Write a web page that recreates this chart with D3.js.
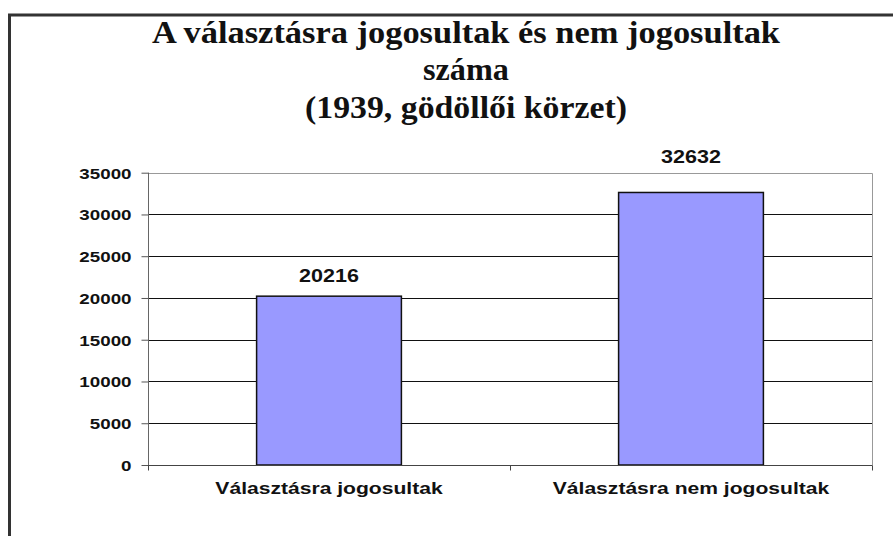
<!DOCTYPE html>
<html>
<head>
<meta charset="utf-8">
<script src="https://cdn.jsdelivr.net/npm/d3@7"></script>
<style>
  html, body { margin: 0; padding: 0; background: #fff; }
  svg { display: block; }
  .title text { font-family: "Liberation Serif", "DejaVu Serif", serif; font-weight: bold; }
  .sans { font-family: "Liberation Sans", Arial, sans-serif; font-weight: bold; }
</style>
</head>
<body>
<svg id="chart" width="893" height="536"></svg>
<script>
// ---- data ----
const titleLines = ["A választásra jogosultak és nem jogosultak", "száma", "(1939, gödöllői körzet)"];
const categories = ["Választásra jogosultak", "Választásra nem jogosultak"];
const values = [20216, 32632];
const yTicks = [0, 5000, 10000, 15000, 20000, 25000, 30000, 35000];

// ---- layout ----
const W = 893, H = 536;
const plot = { left: 148, right: 872, top: 172.7, bottom: 465 };
const titleWidths = [628, 86, 322];
const titleBaselines = [43, 80, 118];
const labelOffsets = [14, 29];

const svg = d3.select("#chart");

// outer frame (extends beyond canvas right/bottom)
svg.append("rect")
  .attr("x", 9.5).attr("y", 15).attr("width", W + 20).attr("height", H + 20)
  .attr("fill", "#fff").attr("stroke", "#333").attr("stroke-width", 3);

// title
const title = svg.append("g").attr("class", "title").attr("fill", "#111");
titleLines.forEach((t, i) => {
  title.append("text")
    .attr("x", 466).attr("y", titleBaselines[i])
    .attr("text-anchor", "middle")
    .style("font-size", "31px")
    .attr("textLength", titleWidths[i])
    .attr("lengthAdjust", "spacingAndGlyphs")
    .text(t);
});

// scales
const x = d3.scaleBand().domain(categories).range([plot.left, plot.right])
  .paddingInner(0.6).paddingOuter(0.3);
const y = d3.scaleLinear().domain([0, 35000]).range([plot.bottom, plot.top]);

// gridlines
svg.append("g").selectAll("line")
  .data(yTicks.filter(d => d > 0 && d < 35000))
  .join("line")
  .attr("x1", plot.left).attr("x2", plot.right)
  .attr("y1", d => Math.round(y(d)) + 0.5).attr("y2", d => Math.round(y(d)) + 0.5)
  .attr("stroke", "#111").attr("stroke-width", 1);

// plot border top/right
svg.append("path")
  .attr("d", `M${plot.left},${Math.round(plot.top) + 0.5}H${plot.right + 0.5}V${plot.bottom}`)
  .attr("fill", "none").attr("stroke", "#999").attr("stroke-width", 1);

// bars
svg.append("g").selectAll("rect")
  .data(values)
  .join("rect")
  .attr("x", (d, i) => x(categories[i]))
  .attr("y", d => y(d))
  .attr("width", x.bandwidth())
  .attr("height", d => y(0) - y(d))
  .attr("fill", "#9999FF")
  .attr("stroke", "#111").attr("stroke-width", 1.5);

// y axis
const yAxis = svg.append("g")
  .attr("transform", `translate(${plot.left + 0.5},0)`)
  .call(d3.axisLeft(y).tickValues(yTicks).tickSize(7).tickPadding(10).tickFormat(d3.format("d")));
yAxis.select(".domain").attr("stroke", "#666").attr("d", `M0,${plot.top}V${plot.bottom + 5}`);
yAxis.selectAll(".tick line").attr("stroke", "#555");
yAxis.selectAll("text")
  .attr("class", "sans")
  .style("font-size", "15px").attr("fill", "#111")
  .attr("dy", "0.36em");

// x axis
const xAxis = svg.append("g")
  .attr("transform", `translate(0,${plot.bottom + 0.5})`)
  .call(d3.axisBottom(x).tickSize(0).tickPadding(0));
xAxis.select(".domain").attr("stroke", "#444").attr("d", `M${plot.left},0H${plot.right + 0.5}`);
xAxis.selectAll(".tick text")
  .attr("class", "sans")
  .attr("y", 28)
  .attr("dy", 0)
  .style("font-size", "17px").attr("fill", "#111");
// category boundary ticks
const bvals = [plot.left, (x(categories[0]) + x.bandwidth() + x(categories[1])) / 2, plot.right];
xAxis.append("g").selectAll("line").data(bvals).join("line")
  .attr("x1", d => Math.round(d) + 0.5).attr("x2", d => Math.round(d) + 0.5)
  .attr("y1", 0).attr("y2", 5).attr("stroke", "#444");

// value labels
const valueLabels = svg.append("g").selectAll("text")
  .data(values)
  .join("text")
  .attr("class", "sans")
  .attr("x", (d, i) => x(categories[i]) + x.bandwidth() / 2)
  .attr("y", (d, i) => y(d) - labelOffsets[i])
  .attr("text-anchor", "middle")
  .style("font-size", "17.5px").attr("fill", "#111")
  .text(d => d);

// horizontal stretch to match reference proportions
function stretch(sel, f) {
  sel.each(function () {
    const w = this.getComputedTextLength();
    d3.select(this).attr("textLength", w * f).attr("lengthAdjust", "spacingAndGlyphs");
  });
}
stretch(yAxis.selectAll("text"), 1.25);
stretch(valueLabels, 1.23);
stretch(xAxis.selectAll(".tick text"), 1.24);
</script>
</body>
</html>
